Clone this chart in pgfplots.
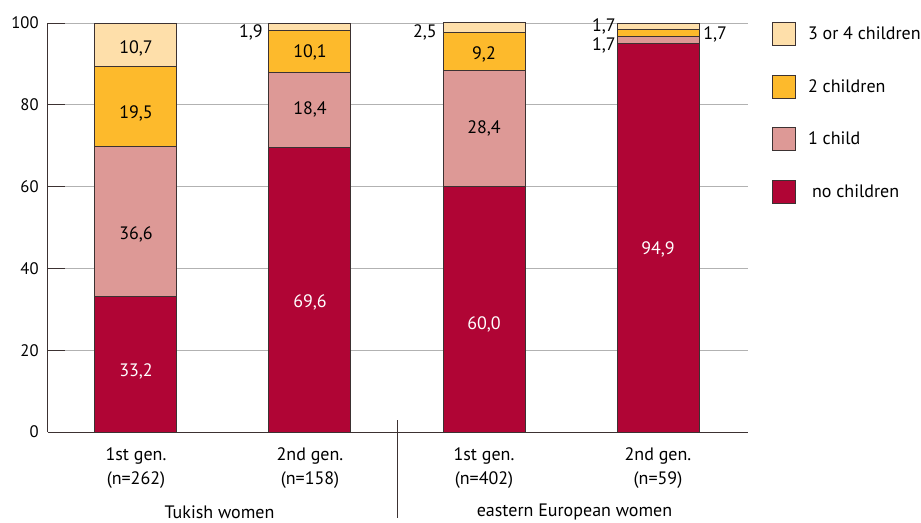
\documentclass[border=0pt]{standalone}
\usepackage{fontspec}
\setmainfont{PT Sans}
\usepackage{pgfplots}
\pgfplotsset{compat=1.18}
\definecolor{cNo}{RGB}{176,5,53}
\definecolor{cOne}{RGB}{221,153,150}
\definecolor{cTwo}{RGB}{253,186,44}
\definecolor{cThree}{RGB}{254,223,170}
\definecolor{cEdge}{RGB}{60,50,50}
\begin{document}
\begin{tikzpicture}[font=\fontsize{13.5}{17.5}\selectfont]
\begin{axis}[
  name=ax,
  scale only axis, width=525pt, height=306.75pt,
  xmin=-0.5057, xmax=3.5172, ymin=0, ymax=100,
  ybar stacked, bar width=61.5pt,
  axis x line*=bottom, axis y line*=left,
  axis line style={cEdge, line width=0.75pt},
  xtick={0,1,2,3},
  xticklabels={{1st gen.\\(n=262)},{2nd gen.\\(n=158)},{1st gen.\\(n=402)},{2nd gen.\\(n=59)}},
  xticklabel style={align=center, yshift=-8.5pt, font=\fontsize{13.5}{17.5}\selectfont},
  x tick style={draw=none},
  ytick={0,20,...,100},
  yticklabel style={xshift=-3.5pt, font=\fontsize{12.5}{15}\selectfont},
  ymajorgrids, major grid style={gray!60, line width=0.75pt},
  tick align=inside, major tick length=12.75pt,
  y tick style={cEdge, line width=0.75pt},
  /pgf/number format/assume math mode=true,
  clip=false,
  reverse legend,
  legend cell align=left,
  legend image code/.code={\draw[#1, draw=cEdge, line width=0.75pt] (0pt,-8.6pt) rectangle (17.25pt,8.6pt);},
  legend style={at={(rel axis cs:1.034,1.0024)}, anchor=north west, draw=none, fill=none,
    inner sep=0pt, row sep=21.5pt, column sep=0pt,
    nodes={inner sep=0pt}, font=\fontsize{13.5}{16}\selectfont},
  every axis plot/.append style={draw=cEdge, line width=0.75pt},
]
\addplot[fill=cNo] coordinates {(0,33.2) (1,69.6) (2,60.0) (3,94.9)};
\addlegendentry{\hspace{12pt}no children}
\addplot[fill=cOne] coordinates {(0,36.6) (1,18.4) (2,28.4) (3,1.7)};
\addlegendentry{\hspace{9pt}1 child}
\addplot[fill=cTwo] coordinates {(0,19.5) (1,10.1) (2,9.2) (3,1.7)};
\addlegendentry{\hspace{9pt}2 children}
\addplot[fill=cThree] coordinates {(0,10.7) (1,1.9) (2,2.5) (3,1.7)};
\addlegendentry{\hspace{9pt}3 or 4 children}

% anchor points for value labels
\coordinate (a1) at (axis cs:0,14.7);
\coordinate (a2) at (axis cs:0,48.2);
\coordinate (a3) at (axis cs:0,78.0);
\coordinate (a4) at (axis cs:0,93.9);
\coordinate (b1) at (axis cs:1,31.8);
\coordinate (b2) at (axis cs:1,78.8);
\coordinate (b3) at (axis cs:1,92.7);
\coordinate (b4) at (axis cs:0.730,97.6);
\coordinate (c1) at (axis cs:2,26.4);
\coordinate (c2) at (axis cs:2,74.3);
\coordinate (c3) at (axis cs:2,92.2);
\coordinate (c4) at (axis cs:1.730,97.6);
\coordinate (d1) at (axis cs:3,44.7);
\coordinate (d2) at (axis cs:2.759,94.6);
\coordinate (d3) at (axis cs:3.259,97.1);
\coordinate (d4) at (axis cs:2.759,99.2);
\coordinate (g1) at ([yshift=-60pt]axis cs:0.48,0);
\coordinate (g2) at ([yshift=-60pt]axis cs:2.52,0);
\coordinate (s1) at (axis cs:1.5,2.9);
\end{axis}
\node[text=white] at (a1) {33,2};
\node at (a2) {36,6};
\node at (a3) {19,5};
\node at (a4) {10,7};
\node[text=white] at (b1) {69,6};
\node at (b2) {18,4};
\node at (b3) {10,1};
\node[anchor=east, inner sep=0pt] at (b4) {1,9};
\node[text=white] at (c1) {60,0};
\node at (c2) {28,4};
\node at (c3) {9,2};
\node[anchor=east, inner sep=0pt] at (c4) {2,5};
\node[text=white] at (d1) {94,9};
\node[anchor=east, inner sep=0pt] at (d2) {1,7};
\node[anchor=west, inner sep=0pt] at (d3) {1,7};
\node[anchor=east, inner sep=0pt] at (d4) {1,7};
\node at (g1) {Tukish women};
\node at (g2) {eastern European women};
\draw[cEdge, line width=0.75pt] (s1) -- ++(0,-73.5pt);
\pgfresetboundingbox
\path (ax.south west) ++(-36pt,-67.5pt) coordinate (bbA);
\path (ax.south west) ++(654.75pt,324pt) coordinate (bbB);
\path[use as bounding box] (bbA) rectangle (bbB);
\end{tikzpicture}
\end{document}
